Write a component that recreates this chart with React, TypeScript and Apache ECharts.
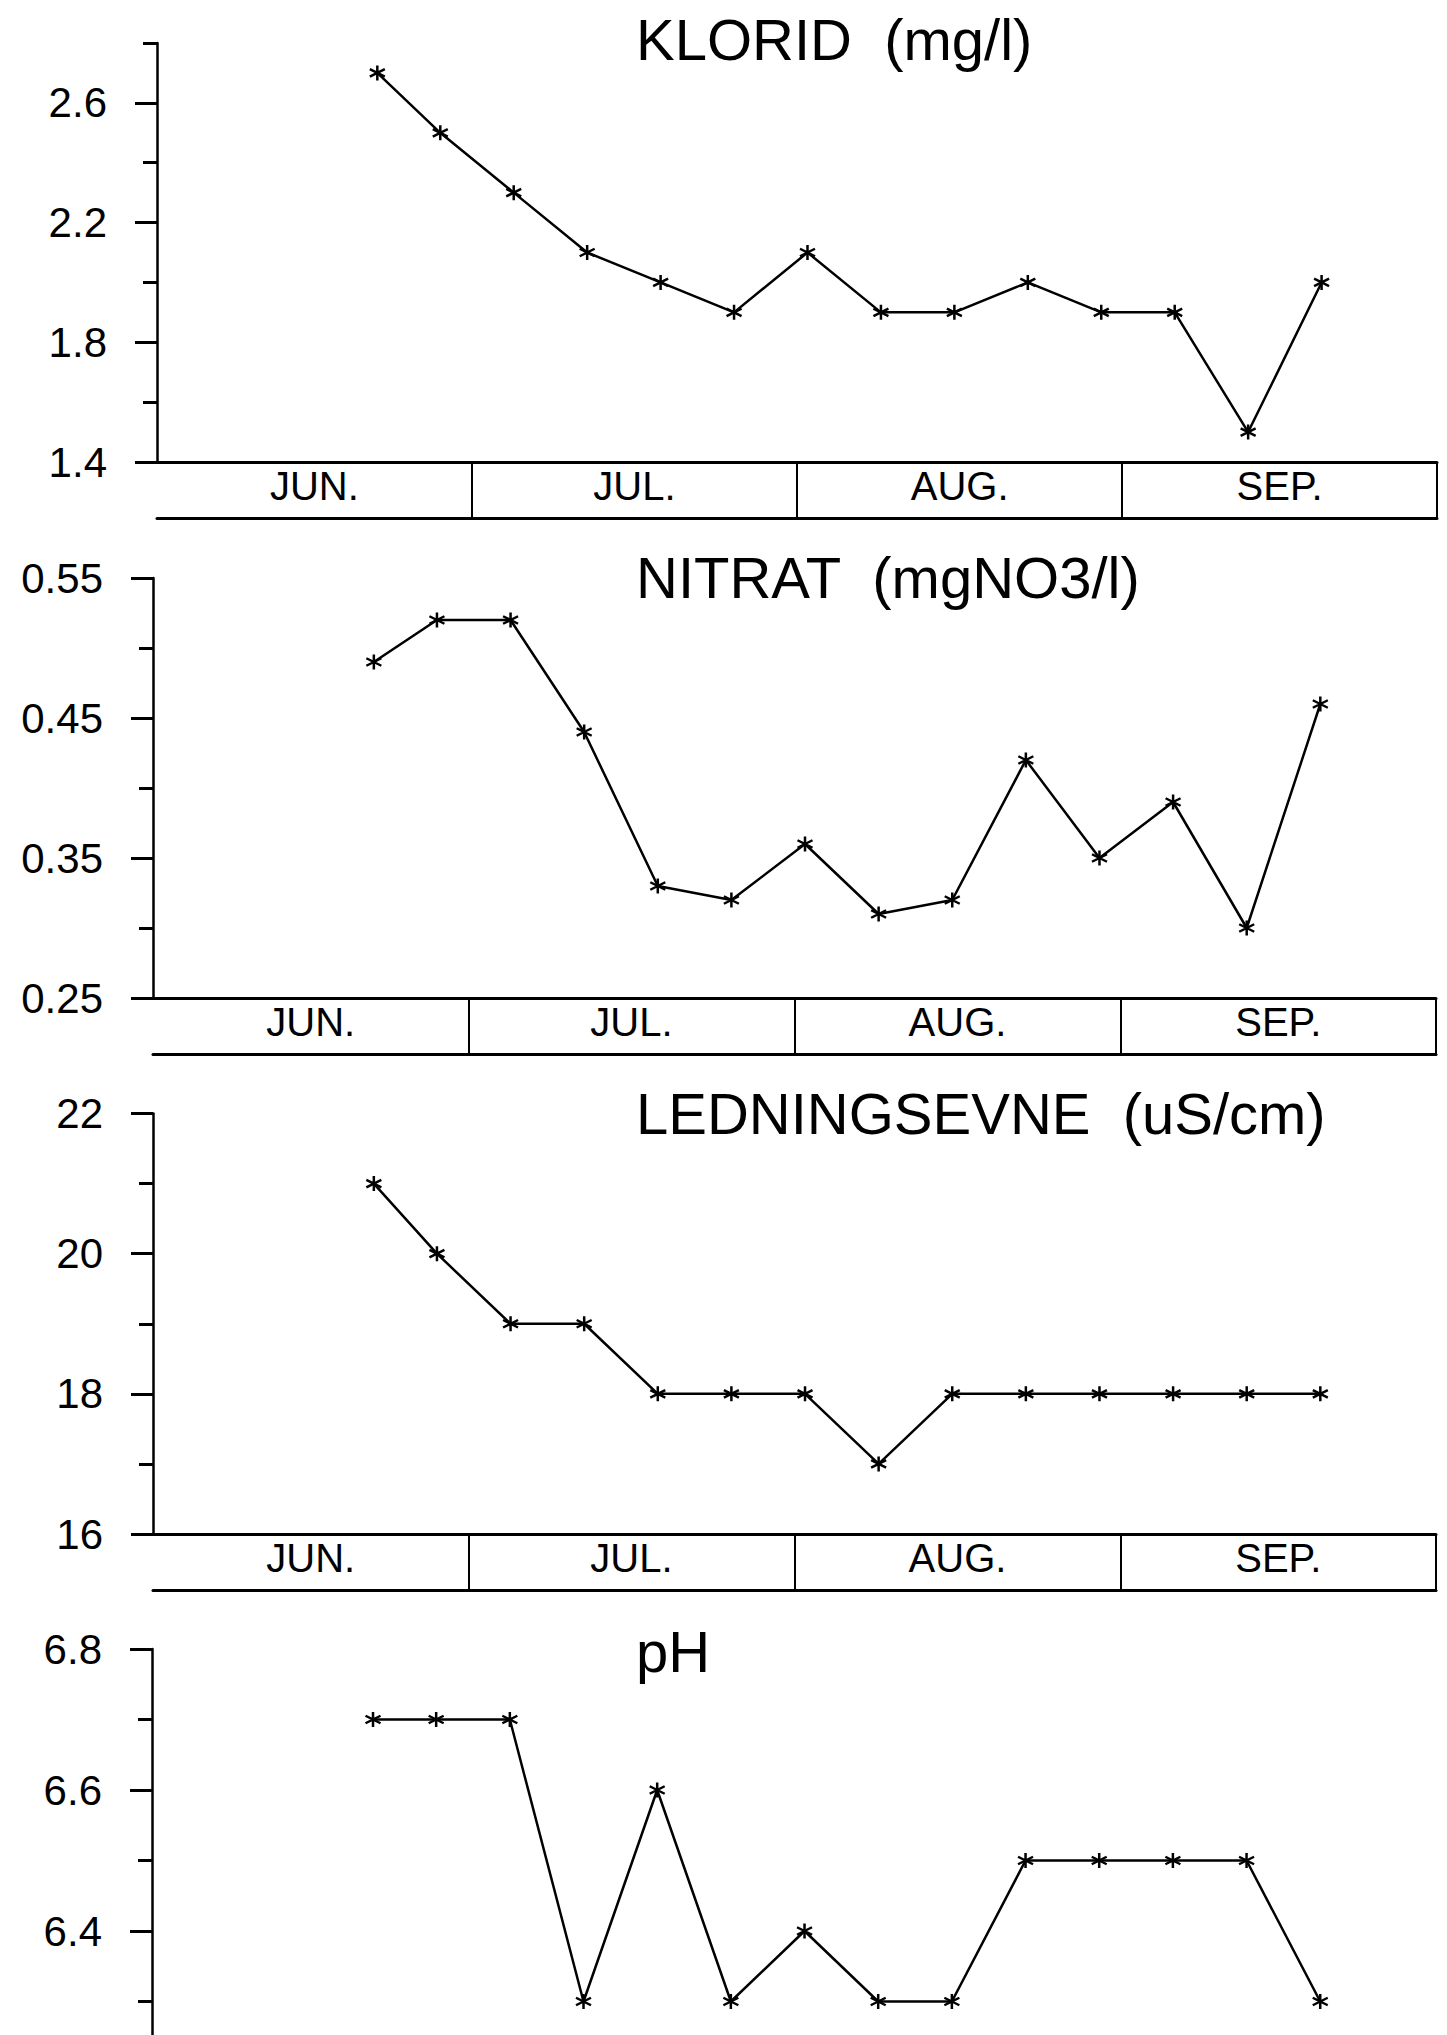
import React, { useEffect, useRef } from "react";
import * as echarts from "echarts";

// ---- data ----
const sampleDates = ["22.06", "28.06", "05.07", "12.07", "19.07", "26.07", "02.08", "09.08", "16.08", "23.08", "30.08", "06.09", "13.09", "20.09"];
const klorid = [2.7, 2.5, 2.3, 2.1, 2.0, 1.9, 2.1, 1.9, 1.9, 2.0, 1.9, 1.9, 1.5, 2.0];
const nitrat = [0.49, 0.52, 0.52, 0.44, 0.33, 0.32, 0.36, 0.31, 0.32, 0.42, 0.35, 0.39, 0.30, 0.46];
const ledningsevne = [21, 20, 19, 19, 18, 18, 18, 17, 18, 18, 18, 18, 18, 18];
const ph = [6.7, 6.7, 6.7, 6.3, 6.6, 6.3, 6.4, 6.3, 6.3, 6.5, 6.5, 6.5, 6.5, 6.3];

const months = ["JUN.", "JUL.", "AUG.", "SEP."];
const monthDays = [30, 31, 31, 30];
const firstMonth = 6;

const kloridTicks = [1.4, 1.8, 2.2, 2.6];
const kloridMinor = [1.6, 2.0, 2.4, 2.8];
const nitratTicks = [0.25, 0.35, 0.45, 0.55];
const nitratMinor = [0.3, 0.4, 0.5];
const ledTicks = [16, 18, 20, 22];
const ledMinor = [17, 19, 21];
// the pH panel runs off the bottom of the page; only the visible labels are listed
const phTicks = [6.4, 6.6, 6.8];
const phMinor = [6.3, 6.5, 6.7];

const titles = ["KLORID  (mg/l)", "NITRAT  (mgNO3/l)", "LEDNINGSEVNE  (uS/cm)", "pH"];

// ---- derived ----
const monthStarts: number[] = [];
monthDays.reduce((acc, d) => { monthStarts.push(acc); return acc + d; }, 0);
const totalDays = monthDays.reduce((a, b) => a + b, 0);
const monthEnds = monthStarts.map((s, i) => s + monthDays[i]);
const monthCenters = monthStarts.map((s, i) => s + monthDays[i] / 2);
const dayOffsets = sampleDates.map((d) => {
  const [dd, mm] = d.split(".").map(Number);
  return monthStarts[mm - firstMonth] + dd - 1;
});

const FONT = "'Liberation Sans', Arial, Helvetica, sans-serif";

const panels = [
  { title: titles[0], values: klorid, ticks: kloridTicks, minor: kloridMinor, min: 1.4, max: 2.8, dec: 1, band: true,
    grid: { left: 157, top: 43, width: 1280, height: 419 }, titleTop: 10 },
  { title: titles[1], values: nitrat, ticks: nitratTicks, minor: nitratMinor, min: 0.25, max: 0.55, dec: 2, band: true,
    grid: { left: 153, top: 578, width: 1283, height: 420 }, titleTop: 548 },
  { title: titles[2], values: ledningsevne, ticks: ledTicks, minor: ledMinor, min: 16, max: 22, dec: 0, band: true,
    grid: { left: 153, top: 1113.5, width: 1283, height: 420.5 }, titleTop: 1084 },
  { title: titles[3], values: ph, ticks: phTicks, minor: phMinor, min: 6.2, max: 6.8, dec: 1, band: false,
    grid: { left: 152, top: 1649, width: 1284, height: 423 }, titleTop: 1622 },
];

const asterisk = "path://M6,0 L6,12 M0.8,3 L11.2,9 M0.8,9 L11.2,3";

function buildOption() {
  const grid: any[] = [];
  const xAxis: any[] = [];
  const yAxis: any[] = [];
  const series: any[] = [];
  const title: any[] = [];
  panels.forEach((p, i) => {
    grid.push({ ...p.grid, containLabel: false, outerBoundsMode: "none" });
    title.push({
      text: p.title, left: 636, top: p.titleTop, padding: 0,
      textStyle: { fontSize: 58, lineHeight: 58, fontWeight: "normal", fontFamily: FONT, color: "#000" },
    });
    // month band axis (top of band = x axis line)
    xAxis.push({
      type: "value", gridIndex: i, min: 0, max: totalDays, position: "bottom",
      axisLine: { show: true, onZero: false, lineStyle: { color: "#000", width: 3 } },
      axisTick: { show: p.band, inside: false, length: 56, customValues: monthEnds, lineStyle: { color: "#000", width: 2 } },
      axisLabel: {
        show: p.band, customValues: monthCenters, margin: 4, fontSize: 40, lineHeight: 40, fontFamily: FONT, color: "#000",
        formatter: (v: number) => {
          const idx = monthCenters.findIndex((c) => Math.abs(c - v) < 0.01);
          return idx >= 0 ? months[idx] : "";
        },
      },
      splitLine: { show: false },
    });
    // bottom line of month band
    xAxis.push({
      type: "value", gridIndex: i, min: 0, max: totalDays, position: "bottom", offset: 56,
      axisLine: { show: p.band, onZero: false, lineStyle: { color: "#000", width: 3 } },
      axisTick: { show: false }, axisLabel: { show: false }, splitLine: { show: false },
    });
    yAxis.push({
      type: "value", gridIndex: i, min: p.min, max: p.max, position: "left",
      axisLine: { show: true, onZero: false, lineStyle: { color: "#000", width: 2.5 } },
      axisTick: { show: true, inside: false, length: 22, customValues: p.ticks, lineStyle: { color: "#000", width: 3 } },
      axisLabel: {
        show: true, customValues: p.ticks, margin: 50, fontSize: 42, fontFamily: FONT, color: "#000",
        formatter: (v: number) => v.toFixed(p.dec),
      },
      splitLine: { show: false },
    });
    yAxis.push({
      type: "value", gridIndex: i, min: p.min, max: p.max, position: "left",
      axisLine: { show: false },
      axisTick: { show: true, inside: false, length: 14, customValues: p.minor, lineStyle: { color: "#000", width: 3 } },
      axisLabel: { show: false }, splitLine: { show: false },
    });
    series.push({
      type: "line", xAxisIndex: 2 * i, yAxisIndex: 2 * i,
      data: dayOffsets.map((d, k) => [d, p.values[k]]),
      symbol: asterisk, symbolSize: 15,
      itemStyle: { color: "#000", borderColor: "#000", borderWidth: 2.5 },
      lineStyle: { color: "#000", width: 2.5 },
      emphasis: { disabled: true }, silent: true,
    });
  });
  return { animation: false, backgroundColor: "#fff", title, grid, xAxis, yAxis, series };
}

export default function App() {
  const ref = useRef<HTMLDivElement>(null);
  useEffect(() => {
    if (!ref.current) return;
    const chart = echarts.init(ref.current, undefined, { renderer: "svg" });
    chart.setOption(buildOption() as any);
    return () => chart.dispose();
  }, []);
  return <div ref={ref} style={{ position: "absolute", left: 0, top: 0, width: 1447, height: 2035 }} />;
}
